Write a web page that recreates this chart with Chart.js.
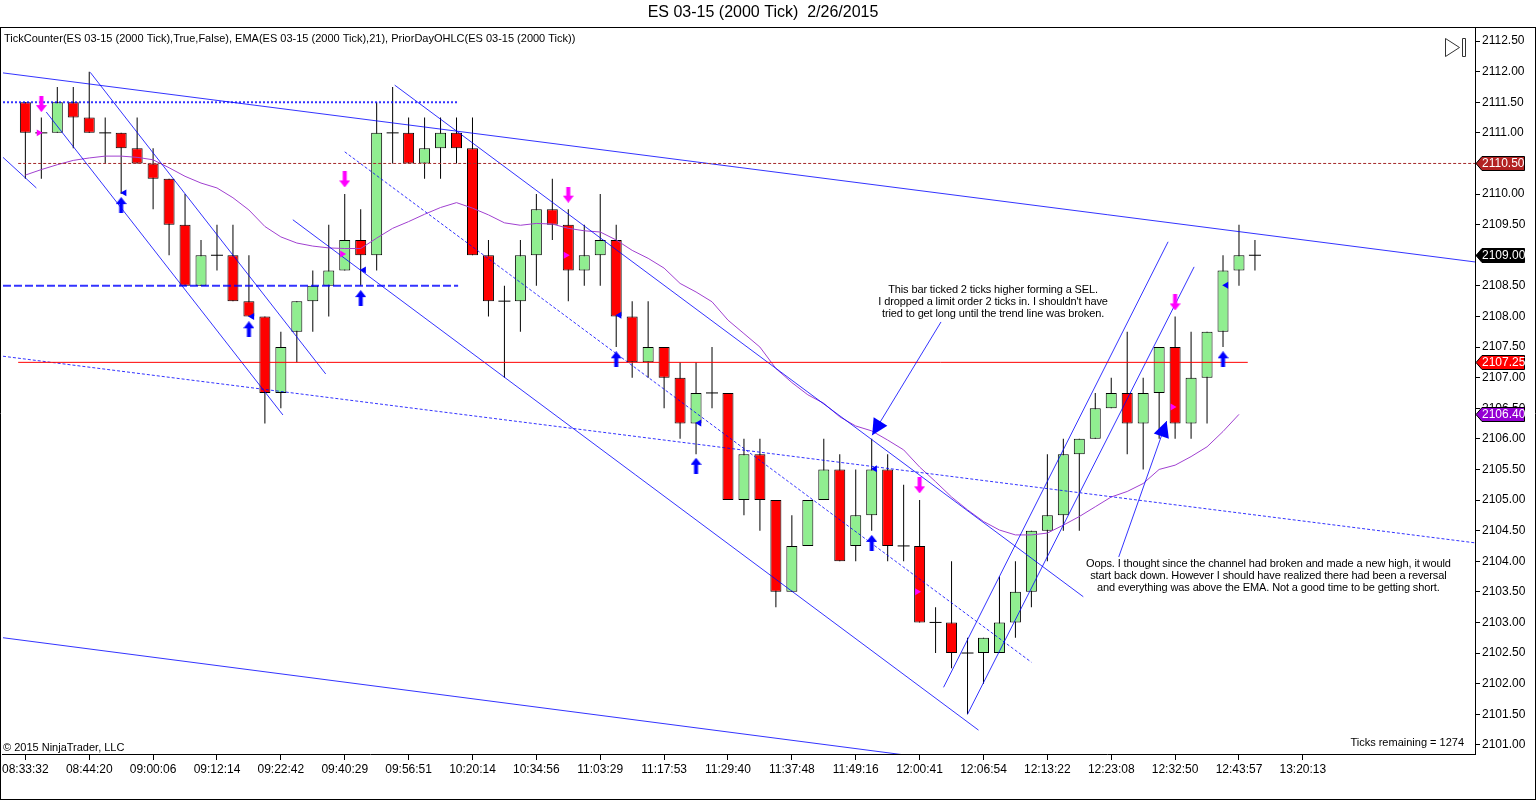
<!DOCTYPE html>
<html>
<head>
<meta charset="utf-8">
<title>ES 03-15 (2000 Tick) 2/26/2015</title>
<script src="https://cdn.jsdelivr.net/npm/chart.js@4.4.1/dist/chart.umd.min.js"></script>
<style>
  html, body { margin: 0; padding: 0; background: #fff; overflow: hidden; }
  #wrap { width: 1536px; height: 800px; position: relative; }
</style>
</head>
<body>
<div id="wrap"><canvas id="chart" width="1536" height="800"></canvas></div>
<script>
/* ES 03-15 (2000 Tick) — candles, EMA(21), prior day levels, hand drawn trend lines */

// x axis labels, one every 4 bars
const timeLabels = ['08:33:32', '08:44:20', '09:00:06', '09:12:14', '09:22:42', '09:40:29', '09:56:51',
  '10:20:14', '10:34:56', '11:03:29', '11:17:53', '11:29:40', '11:37:48', '11:49:16', '12:00:41',
  '12:06:54', '12:13:22', '12:23:08', '12:32:50', '12:43:57', '13:20:13'];

const priceTicks = [2101, 2101.5, 2102, 2102.5, 2103, 2103.5, 2104, 2104.5, 2105, 2105.5, 2106, 2106.5,
  2107, 2107.5, 2108, 2108.5, 2109, 2109.5, 2110, 2110.5, 2111, 2111.5, 2112, 2112.5];

const opens = [2111.5, 2111.0, 2111.0, 2111.5, 2111.25, 2111.0, 2111.0, 2110.75, 2110.5, 2110.25,
  2109.5, 2108.5, 2109.0, 2109.0, 2108.25, 2108.0, 2106.75, 2107.75, 2108.25, 2108.5,
  2108.75, 2109.25, 2109.0, 2111.0, 2111.0, 2110.5, 2110.75, 2111.0, 2110.75, 2109.0,
  2108.25, 2108.25, 2109.0, 2109.75, 2109.5, 2108.75, 2109.0, 2109.25, 2108.0, 2107.25,
  2107.5, 2107.0, 2106.25, 2106.75, 2106.75, 2105.0, 2105.75, 2105.0, 2103.5, 2104.25,
  2105.0, 2105.5, 2104.25, 2104.75, 2105.5, 2104.25, 2104.25, 2103.0, 2103.0, 2102.5,
  2102.5, 2102.5, 2103.0, 2103.5, 2104.5, 2104.75, 2105.75, 2106.0, 2106.5, 2106.75,
  2106.25, 2106.75, 2107.5, 2106.25, 2107.0, 2107.75, 2108.75, 2109.0];
const highs = [2111.5, 2111.25, 2111.75, 2111.75, 2112.0, 2111.25, 2111.0, 2111.25, 2110.75, 2110.25,
  2110.0, 2109.25, 2109.5, 2109.5, 2109.0, 2108.0, 2107.75, 2108.25, 2108.75, 2109.5,
  2110.0, 2109.75, 2111.5, 2111.75, 2111.25, 2111.25, 2111.25, 2111.25, 2111.25, 2109.25,
  2108.5, 2109.25, 2110.0, 2110.25, 2109.75, 2109.5, 2110.0, 2109.5, 2108.25, 2108.25,
  2107.5, 2107.25, 2107.25, 2107.5, 2106.75, 2106.0, 2106.0, 2105.0, 2104.75, 2105.0,
  2106.0, 2105.75, 2105.5, 2106.0, 2105.75, 2105.25, 2105.0, 2103.25, 2104.0, 2102.75,
  2102.75, 2103.75, 2104.0, 2104.5, 2105.75, 2106.0, 2106.0, 2106.75, 2107.0, 2107.75,
  2107.0, 2107.5, 2108.0, 2107.75, 2107.75, 2109.0, 2109.5, 2109.25];
const lows = [2110.25, 2110.25, 2111.0, 2110.75, 2111.0, 2110.5, 2110.0, 2110.5, 2109.75, 2109.0,
  2108.5, 2108.5, 2108.75, 2108.25, 2108.0, 2106.25, 2106.5, 2107.25, 2107.75, 2108.0,
  2108.75, 2108.5, 2108.75, 2110.5, 2110.5, 2110.25, 2110.25, 2110.5, 2109.0, 2108.0,
  2107.0, 2107.75, 2108.5, 2109.25, 2108.25, 2108.5, 2108.5, 2107.5, 2107.0, 2107.0,
  2106.5, 2106.0, 2105.75, 2106.5, 2105.0, 2104.75, 2104.5, 2103.25, 2103.5, 2104.25,
  2105.0, 2104.0, 2104.0, 2104.5, 2104.0, 2104.0, 2103.0, 2102.5, 2102.25, 2101.5,
  2102.0, 2102.5, 2102.75, 2103.25, 2104.0, 2104.5, 2104.5, 2106.0, 2106.5, 2105.75,
  2105.5, 2106.0, 2106.0, 2106.0, 2106.25, 2107.5, 2108.5, 2108.75];
const closes = [2111.0, 2111.0, 2111.5, 2111.25, 2111.0, 2111.0, 2110.75, 2110.5, 2110.25, 2109.5,
  2108.5, 2109.0, 2109.0, 2108.25, 2108.0, 2106.75, 2107.5, 2108.25, 2108.5, 2108.75,
  2109.25, 2109.0, 2111.0, 2111.0, 2110.5, 2110.75, 2111.0, 2110.75, 2109.0, 2108.25,
  2108.25, 2109.0, 2109.75, 2109.5, 2108.75, 2109.0, 2109.25, 2108.0, 2107.25, 2107.5,
  2107.0, 2106.25, 2106.75, 2106.75, 2105.0, 2105.75, 2105.0, 2103.5, 2104.25, 2105.0,
  2105.5, 2104.0, 2104.75, 2105.5, 2104.25, 2104.25, 2103.0, 2103.0, 2102.5, 2102.5,
  2102.75, 2103.0, 2103.5, 2104.5, 2104.75, 2105.75, 2106.0, 2106.5, 2106.75, 2106.25,
  2106.75, 2107.5, 2106.25, 2107.0, 2107.75, 2108.75, 2109.0, 2109.0];

// EMA(21)
const emaValues = [2110.31, 2110.40, 2110.48, 2110.55, 2110.59, 2110.62, 2110.62, 2110.60, 2110.56, 2110.43,
  2110.29, 2110.18, 2110.10, 2109.94, 2109.74, 2109.47, 2109.30, 2109.20, 2109.15, 2109.12,
  2109.11, 2109.11, 2109.28, 2109.44, 2109.55, 2109.67, 2109.78, 2109.86, 2109.77, 2109.66,
  2109.53, 2109.49, 2109.52, 2109.51, 2109.44, 2109.40, 2109.38, 2109.25, 2109.08, 2108.95,
  2108.79, 2108.54, 2108.40, 2108.24, 2107.94, 2107.72, 2107.50, 2107.15, 2106.92, 2106.72,
  2106.58, 2106.36, 2106.21, 2106.13, 2105.98, 2105.82, 2105.54, 2105.30, 2105.05, 2104.84,
  2104.65, 2104.51, 2104.43, 2104.43, 2104.46, 2104.59, 2104.73, 2104.89, 2105.05, 2105.14,
  2105.27, 2105.50, 2105.57, 2105.71, 2105.87, 2106.12, 2106.40];

// prior day levels
const priorClose = 2110.5;
const priorLow = 2107.25;

// TickCounter signals
const buyBars = [6, 14, 21, 37, 42, 53, 75];
const buyArrowPrices = [2109.82, 2107.79, 2108.30, 2107.30, 2105.56, 2104.30, 2107.30];
const buyMarkPrices = [2110.02, 2108.0, 2108.76, 2108.02, 2106.26, 2105.51, 2108.51];
const sellBars = [1, 20, 34, 56, 72];
const sellArrowPrices = [2111.47, 2110.24, 2109.99, 2105.24, 2108.23];
const sellMarkPrices = [2111.0, 2109.02, 2109.0, 2103.5, 2106.52];

// drawn lines: [barFrom, priceFrom, barTo, priceTo]
const trendLines = [
  [-1.4, 2111.98, 90.8, 2108.89],
  [-1.4, 2102.75, 55.2, 2100.83],
  [4.06, 2111.99, 18.81, 2107.06],
  [1.31, 2111.34, 16.13, 2106.39],
  [-1.4, 2110.60, 0.69, 2110.10],
  [23.13, 2111.78, 66.25, 2103.42],
  [16.75, 2109.58, 59.69, 2101.24],
  [57.5, 2101.94, 71.56, 2109.22],
  [59.0, 2101.50, 73.19, 2108.81]
];
const dashedLines = [
  [-1.4, 2107.35, 90.8, 2104.30],
  [20.0, 2110.69, 63.0, 2102.35]
];
const dotLevel = 2111.5;
const dashLevel = 2108.5;
const levelEndBar = 27.1;

const notes = [
  { bar: 60.6, price: 2108.43, from: [57.34, 2107.91], to: [53.03, 2106.06], lines: [
    'This bar ticked 2 ticks higher forming a SEL.',
    "I dropped a limit order 2 ticks in. I shouldn't have",
    'tried to get long until the trend line was broken.'] },
  { bar: 77.84, price: 2103.95, from: [68.47, 2104.07], to: [71.47, 2106.29], lines: [
    'Oops. I thought since the channel had broken and made a new high, it would',
    'start back down. However I should have realized there had been a reversal',
    'and everything was above the EMA. Not a good time to be getting short.'] }
];

const colors = {
  up: '#90EE90', down: '#FF0000', blue: 'rgba(0, 0, 255, 0.8)', ema: '#A040D0',
  magenta: '#FF00FF', arrowBlue: '#0000FF', priorClose: '#A52A2A', priorLow: '#FF0000'
};

Chart.defaults.font.family = "'Liberation Sans', Arial, sans-serif";
Chart.defaults.font.size = 12;
Chart.defaults.color = '#000';

function arrowImage(color, up) {
  const c = document.createElement('canvas');
  c.width = 11; c.height = 16;
  const g = c.getContext('2d');
  g.fillStyle = color;
  g.beginPath();
  if (up) {
    g.moveTo(5.5, 0); g.lineTo(11, 7); g.lineTo(7.5, 7); g.lineTo(7.5, 16);
    g.lineTo(3.5, 16); g.lineTo(3.5, 7); g.lineTo(0, 7);
  } else {
    g.moveTo(5.5, 16); g.lineTo(11, 9); g.lineTo(7.5, 9); g.lineTo(7.5, 0);
    g.lineTo(3.5, 0); g.lineTo(3.5, 9); g.lineTo(0, 9);
  }
  g.closePath();
  g.fill();
  return c;
}

const idx = opens.map((_, i) => i);
const bodies = idx.filter(i => opens[i] !== closes[i]);
const dojis = idx.filter(i => opens[i] === closes[i]);

function segment(l, dash, width, color) {
  return {
    type: 'line', data: [{ x: l[0], y: l[1] }, { x: l[2], y: l[3] }],
    borderColor: color || colors.blue, borderWidth: width || 1, borderDash: dash || [],
    pointRadius: 0, tension: 0, order: -1
  };
}

const datasets = [
  {
    type: 'bar', label: 'wick', data: idx.map(i => ({ x: i, y: [lows[i], highs[i]] })),
    backgroundColor: '#000', maxBarThickness: 1, grouped: false, order: 4
  },
  {
    type: 'bar', label: 'body', data: bodies.map(i => ({ x: i, y: [opens[i], closes[i]] })),
    backgroundColor: bodies.map(i => closes[i] > opens[i] ? colors.up : colors.down),
    borderColor: '#000', borderWidth: 1, borderSkipped: false, maxBarThickness: 11, grouped: false, order: 3
  },
  {
    type: 'line', label: 'doji', data: dojis.map(i => ({ x: i, y: closes[i] })), showLine: false,
    pointStyle: 'line', pointRadius: 6, borderColor: '#000', borderWidth: 1, order: 2
  },
  {
    type: 'line', label: 'EMA', data: emaValues.map((v, i) => ({ x: i, y: v })),
    borderColor: colors.ema, borderWidth: 1, pointRadius: 0, tension: 0, order: 1
  },
  segment([-1.4, dotLevel, levelEndBar, dotLevel], [2, 2], 2),
  segment([-1.4, dashLevel, levelEndBar, dashLevel], [8, 3], 2),
  segment([-0.45, priorClose, 90.8, priorClose], [3, 2], 1, colors.priorClose),
  segment([-0.45, priorLow, 76.55, priorLow], [], 1, colors.priorLow),
  ...trendLines.map(l => segment(l)),
  ...dashedLines.map(l => segment(l, [3, 2])),
  {
    type: 'line', label: 'buy', data: buyBars.map((b, k) => ({ x: b, y: buyArrowPrices[k] })), showLine: false,
    pointStyle: arrowImage(colors.arrowBlue, true), order: -2
  },
  {
    type: 'line', label: 'sell', data: sellBars.map((b, k) => ({ x: b, y: sellArrowPrices[k] })), showLine: false,
    pointStyle: arrowImage(colors.magenta, false), order: -2
  },
  {
    type: 'line', label: 'buyMark', data: buyBars.map((b, k) => ({ x: b + 0.2, y: buyMarkPrices[k] })), showLine: false,
    pointStyle: 'triangle', rotation: -90, pointRadius: 4, backgroundColor: colors.arrowBlue, borderWidth: 0, order: -2
  },
  {
    type: 'line', label: 'sellMark', data: sellBars.map((b, k) => ({ x: b - 0.16, y: sellMarkPrices[k] })), showLine: false,
    pointStyle: 'triangle', rotation: 90, pointRadius: 4, backgroundColor: colors.magenta, borderWidth: 0, order: -2
  }
];

const priceBoxes = [
  { value: priorClose, fill: '#B22222' },
  { value: closes[closes.length - 1], fill: '#000' },
  { value: priorLow, fill: '#FF0000' },
  { value: emaValues[emaValues.length - 1], fill: '#9400D3' }
];

const overlay = {
  id: 'overlay',
  afterDraw(chart) {
    const { ctx, scales: { x, y }, chartArea: a } = chart;
    ctx.save();

    // frame
    ctx.strokeStyle = '#000';
    ctx.lineWidth = 1;
    ctx.beginPath();
    ctx.moveTo(0, 27.5); ctx.lineTo(1536, 27.5);
    ctx.moveTo(0.5, 27); ctx.lineTo(0.5, 800);
    ctx.moveTo(1535.5, 27); ctx.lineTo(1535.5, 800);
    ctx.moveTo(0, 799.5); ctx.lineTo(1536, 799.5);
    ctx.stroke();

    // header texts
    ctx.fillStyle = '#000';
    ctx.textBaseline = 'middle';
    ctx.textAlign = 'center';
    ctx.font = "16px 'Liberation Sans', Arial, sans-serif";
    ctx.fillText('ES 03-15 (2000 Tick)  2/26/2015', 763, 13);
    ctx.textAlign = 'left';
    ctx.font = "11px 'Liberation Sans', Arial, sans-serif";
    ctx.fillText('TickCounter(ES 03-15 (2000 Tick),True,False), EMA(ES 03-15 (2000 Tick),21), PriorDayOHLC(ES 03-15 (2000 Tick))', 4, 39);
    ctx.fillText('\u00A9 2015 NinjaTrader, LLC', 3, 748);
    ctx.textAlign = 'right';
    ctx.fillText('Ticks remaining = 1274', 1464, 743);

    // scroll-to-end icon
    ctx.strokeStyle = '#333';
    ctx.beginPath();
    ctx.moveTo(1445.5, 38.5); ctx.lineTo(1459.5, 47.5); ctx.lineTo(1445.5, 56.5); ctx.closePath();
    ctx.rect(1462.5, 38.5, 3, 18);
    ctx.stroke();

    // notes with arrows
    ctx.save();
    ctx.beginPath();
    ctx.rect(a.left, a.top, a.right - a.left, a.bottom - a.top);
    ctx.clip();
    notes.forEach(n => {
      const cx = x.getPixelForValue(n.bar), cy = y.getPixelForValue(n.price);
      ctx.fillStyle = '#000';
      ctx.textAlign = 'center';
      ctx.font = "11px 'Liberation Sans', Arial, sans-serif";
      ctx.letterSpacing = '-0.12px';
      n.lines.forEach((t, k) => ctx.fillText(t, cx, cy + k * 12));
      ctx.letterSpacing = '0px';
      const x0 = x.getPixelForValue(n.from[0]), y0 = y.getPixelForValue(n.from[1]);
      const x1 = x.getPixelForValue(n.to[0]), y1 = y.getPixelForValue(n.to[1]);
      ctx.strokeStyle = colors.blue;
      ctx.lineWidth = 1;
      ctx.beginPath(); ctx.moveTo(x0, y0); ctx.lineTo(x1, y1); ctx.stroke();
      const ang = Math.atan2(y1 - y0, x1 - x0), len = 16, half = 8;
      const bx = x1 - len * Math.cos(ang), by = y1 - len * Math.sin(ang);
      ctx.fillStyle = '#0000FF';
      ctx.beginPath();
      ctx.moveTo(x1, y1);
      ctx.lineTo(bx + half * Math.sin(ang), by - half * Math.cos(ang));
      ctx.lineTo(bx - half * Math.sin(ang), by + half * Math.cos(ang));
      ctx.closePath(); ctx.fill();
    });
    ctx.restore();

    // price boxes on the right axis
    ctx.font = "12px 'Liberation Sans', Arial, sans-serif";
    ctx.textAlign = 'left';
    priceBoxes.forEach(p => {
      const py = Math.round(y.getPixelForValue(p.value)) + 0.5;
      ctx.beginPath();
      ctx.moveTo(a.right + 1, py);
      ctx.lineTo(a.right + 7, py - 7);
      ctx.lineTo(a.right + 49.5, py - 7);
      ctx.lineTo(a.right + 49.5, py + 7);
      ctx.lineTo(a.right + 7, py + 7);
      ctx.closePath();
      ctx.fillStyle = p.fill;
      ctx.fill();
      ctx.strokeStyle = '#000';
      ctx.stroke();
      ctx.fillStyle = '#fff';
      ctx.fillText(p.value.toFixed(2), a.right + 7, py + 0.5);
    });
    ctx.restore();
  }
};

new Chart(document.getElementById('chart'), {
  type: 'bar',
  data: { datasets },
  options: {
    responsive: false,
    animation: false,
    events: [],
    layout: { padding: { top: 27, left: 0, right: 0, bottom: 0 }, autoPadding: false },
    plugins: { legend: { display: false }, tooltip: { enabled: false }, title: { display: false } },
    scales: {
      x: {
        type: 'linear', min: -1.40625, max: 90.78, offset: false,
        grid: { drawOnChartArea: false, offset: false, tickLength: 6, color: '#000' },
        border: { color: '#000' },
        afterBuildTicks: s => { s.ticks = timeLabels.map((_, k) => ({ value: k * 4 })); },
        afterFit: s => { s.height = 46; },
        ticks: { autoSkip: false, maxRotation: 0, padding: 2, color: '#000',
          callback: v => timeLabels[Math.round(v / 4)] }
      },
      y: {
        type: 'linear', position: 'right', min: 2100.85, max: 2112.73,
        grid: { drawOnChartArea: false, tickLength: 5, color: '#000' },
        border: { color: '#000' },
        afterBuildTicks: s => { s.ticks = priceTicks.map(v => ({ value: v })); },
        afterFit: s => { s.width = 61; },
        ticks: { padding: 2, color: '#000', callback: v => v.toFixed(2) }
      }
    }
  },
  plugins: [overlay]
});
</script>
</body>
</html>
